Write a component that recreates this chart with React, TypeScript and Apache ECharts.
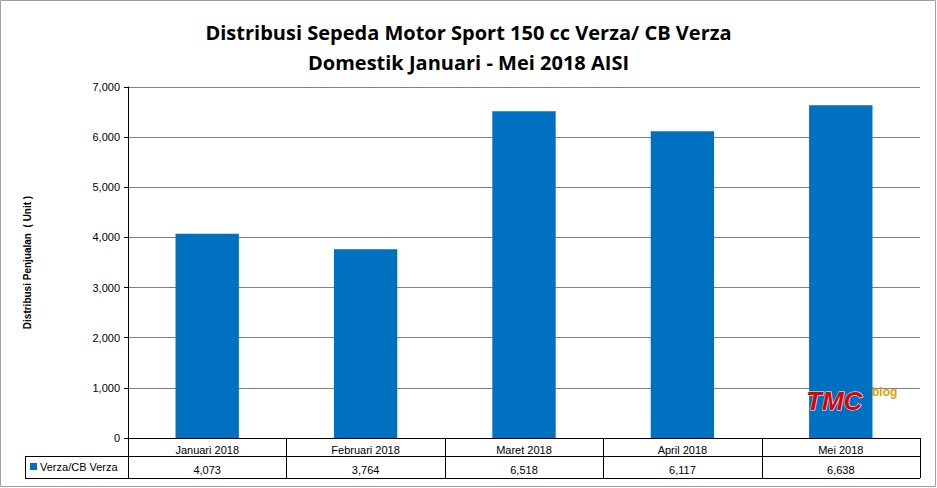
import React, { useEffect, useRef } from 'react';
import * as echarts from 'echarts';

const categories = ['Januari 2018', 'Februari 2018', 'Maret 2018', 'April 2018', 'Mei 2018'];
const values = [4073, 3764, 6518, 6117, 6638];
const seriesName = 'Verza/CB Verza';

const W = 937, H = 488;
const L = 128, R = 920, T = 87, B = 438;
const font = 'Liberation Sans, Arial, sans-serif';

const App: React.FC = () => {
  const chartRef = useRef<HTMLDivElement>(null);

  useEffect(() => {
    document.body.style.margin = '0';
    if (!chartRef.current) return;
    const chart = echarts.init(chartRef.current, undefined, { renderer: 'svg' });
    const cw = (R - L) / categories.length;
    const lineStyle = { stroke: '#000', lineWidth: 1 };
    const lines: any[] = [];
    for (let i = 0; i <= categories.length; i++) {
      const x = Math.round(L + i * cw) + 0.5;
      lines.push({ type: 'line', shape: { x1: x, y1: B, x2: x, y2: 478 }, style: lineStyle });
    }
    lines.push({ type: 'line', shape: { x1: 25, y1: 456.5, x2: R, y2: 456.5 }, style: lineStyle });
    lines.push({ type: 'line', shape: { x1: 25, y1: 478.5, x2: R, y2: 478.5 }, style: lineStyle });
    lines.push({ type: 'line', shape: { x1: 25.5, y1: 456, x2: 25.5, y2: 478 }, style: lineStyle });

    const option = {
      animation: false,
      title: {
        text: 'Distribusi Sepeda Motor Sport 150 cc Verza/ CB Verza\nDomestik Januari - Mei 2018 AISI',
        left: 'center',
        top: 12,
        textStyle: { fontFamily: 'Open Sans, sans-serif', fontSize: 20, fontWeight: 'bold', color: '#000', lineHeight: 30 },
      },
      grid: { left: L, right: W - R, top: T, bottom: H - B },
      xAxis: [
        {
          type: 'category',
          data: categories,
          axisLine: { lineStyle: { color: '#000' } },
          axisTick: { show: false },
          axisLabel: { color: '#000', fontFamily: font, fontSize: 11, margin: 6 },
        },
        {
          type: 'category',
          data: values.map((v) => v.toLocaleString('en-US')),
          position: 'bottom',
          offset: 18,
          axisLine: { show: false },
          axisTick: { show: false },
          axisLabel: { color: '#000', fontFamily: font, fontSize: 11, margin: 8 },
        },
      ],
      yAxis: {
        type: 'value',
        min: 0,
        max: 7000,
        interval: 1000,
        name: 'Distribusi Penjualan  ( Unit )',
        nameLocation: 'middle',
        nameGap: 96,
        nameTextStyle: { fontFamily: font, fontSize: 10, fontWeight: 'bold', color: '#000' },
        axisLine: { show: true, lineStyle: { color: '#000' } },
        axisTick: { show: true, length: 4, lineStyle: { color: '#000' } },
        axisLabel: { color: '#000', fontFamily: font, fontSize: 11, formatter: (v: number) => v.toLocaleString('en-US') },
        splitLine: { lineStyle: { color: '#808080' } },
      },
      series: [
        {
          name: seriesName,
          type: 'bar',
          data: values,
          barWidth: '40%',
          itemStyle: { color: '#0070C0' },
        },
      ],
      graphic: [
        { type: 'rect', shape: { x: 0.5, y: 0.5, width: W - 2, height: H - 2 }, style: { fill: 'none', stroke: '#a0a0a0' } },
        ...lines,
        { type: 'rect', shape: { x: 30, y: 463, width: 7, height: 7 }, style: { fill: '#0070C0' } },
        { type: 'text', x: 40, y: 461, style: { text: seriesName, font: `11px ${font}`, fill: '#000' } },
        {
          type: 'group',
          z: 100,
          children: [
            { type: 'text', x: 806, y: 388, z: 100, style: { text: 'TMC', font: `bold italic 26px ${font}`, fill: '#e00000', stroke: '#fff', lineWidth: 1 } },
            { type: 'text', x: 872, y: 386, z: 100, style: { text: 'blog', font: `bold 12px ${font}`, fill: '#e0a000' } },
            { type: 'text', x: 880, y: 399, z: 100, style: { text: '.com', font: `9px ${font}`, fill: '#fff' } },
          ],
        },
      ],
    };

    chart.setOption(option);
    return () => {
      chart.dispose();
    };
  }, []);

  return <div ref={chartRef} style={{ width: `${W}px`, height: `${H}px`, background: '#fff' }} />;
};

export default App;
